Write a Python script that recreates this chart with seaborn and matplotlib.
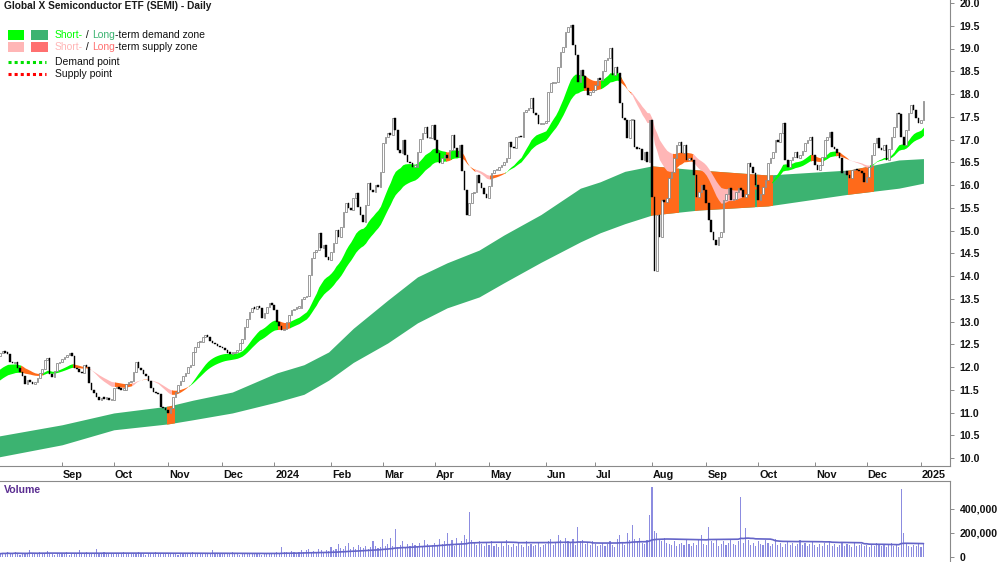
import numpy as np
import pandas as pd
import matplotlib
matplotlib.use("Agg")
import matplotlib.pyplot as plt
import seaborn as sns
from matplotlib.patches import Rectangle
from matplotlib.lines import Line2D

# ---------------- data ----------------
title = "Global X Semiconductor ETF (SEMI) - Daily"
first_day = "2023-07-27"

close_2023_07 = [12.25, 12.31, 12.35]
close_2023_08 = [12.30, 12.29, 12.10, 12.08, 12.12, 11.98, 11.90, 11.80, 11.62, 11.72, 11.68, 11.62,
                 11.66, 11.75, 11.87, 11.95, 12.15, 12.20, 11.85, 11.78, 11.92, 12.09, 12.12]
close_2023_09 = [12.18, 12.22, 12.26, 12.31, 12.25, 11.98, 11.95, 11.90, 11.87, 12.04, 12.00, 11.65,
                 11.50, 11.42, 11.34, 11.27, 11.32, 11.30, 11.32, 11.27, 11.28]
close_2023_10 = [11.54, 11.56, 11.52, 11.50, 11.50, 11.62, 11.67, 11.70, 11.89, 12.11, 11.98, 11.93,
                 11.85, 11.80, 11.70, 11.54, 11.45, 11.42, 11.40, 11.12, 11.10, 11.05]
close_2023_11 = [11.00, 11.10, 11.34, 11.45, 11.60, 11.70, 11.80, 11.87, 11.99, 12.05, 12.33, 12.45,
                 12.55, 12.56, 12.66, 12.70, 12.65, 12.58, 12.53, 12.50, 12.46, 12.44]
close_2023_12 = [12.42, 12.38, 12.31, 12.29, 12.31, 12.33, 12.38, 12.53, 12.62, 12.88, 13.05, 13.21,
                 13.30, 13.28, 13.34, 13.30, 13.08, 13.19, 13.32, 13.40, 13.36]
close_2024_01 = [13.25, 12.99, 12.90, 12.81, 12.84, 13.00, 13.14, 13.25, 13.28, 13.30, 13.30, 13.50,
                 13.54, 13.56, 14.02, 14.40, 14.53, 14.57, 14.95, 14.62, 14.68, 14.42, 14.35]
close_2024_02 = [14.53, 14.72, 15.01, 14.86, 15.08, 15.41, 15.60, 15.50, 15.45, 15.71, 15.82, 15.52,
                 15.35, 15.19, 15.56, 16.04, 15.90, 15.85, 16.00, 15.96, 16.29]
close_2024_03 = [16.92, 17.05, 17.14, 17.10, 17.47, 17.20, 16.77, 16.70, 16.99, 16.66, 16.51, 16.48,
                 16.40, 16.40, 16.73, 17.01, 17.14, 17.27, 17.03, 17.03, 17.32]
close_2024_04 = [16.99, 16.70, 16.48, 16.60, 16.66, 16.59, 16.77, 17.10, 16.81, 16.62, 16.88, 16.31,
                 15.89, 15.34, 15.60, 15.82, 15.85, 16.22, 16.05, 15.93, 15.80, 15.71]
close_2024_05 = [15.98, 16.26, 16.33, 16.33, 16.40, 16.44, 16.50, 16.59, 16.95, 16.84, 16.81, 17.05,
                 17.07, 17.05, 17.60, 17.65, 17.70, 17.91, 17.58, 17.54, 17.34, 17.34, 17.36]
close_2024_06 = [17.40, 18.04, 18.24, 18.24, 18.26, 18.60, 18.92, 19.03, 19.36, 19.47, 19.51, 19.07,
                 18.86, 18.26, 18.53, 18.40, 18.13, 17.98, 18.05, 18.09]
close_2024_07 = [18.20, 18.35, 18.31, 18.50, 18.75, 18.80, 19.01, 18.42, 18.60, 18.46, 17.80, 17.47,
                 17.43, 17.03, 17.43, 17.43, 16.84, 16.80, 16.79, 16.55, 16.73, 16.51, 17.43]
close_2024_08 = [15.74, 14.10, 15.35, 14.86, 15.67, 15.63, 15.71, 16.15, 16.29, 16.60, 16.88, 16.95,
                 16.70, 16.88, 16.55, 16.60, 16.55, 16.22, 15.74, 15.85, 16.00, 15.90]
close_2024_09 = [15.60, 15.23, 14.97, 14.80, 14.68, 14.86, 14.97, 15.67, 15.80, 15.93, 15.67, 15.70,
                 15.85, 15.93, 15.89, 15.74, 15.80, 16.48, 16.40, 16.26, 16.00]
close_2024_10 = [15.67, 15.80, 15.96, 16.11, 16.48, 16.60, 16.73, 16.99, 16.95, 17.15, 17.36, 16.55,
                 16.40, 16.55, 16.62, 16.73, 16.59, 16.65, 16.75, 16.92, 17.00, 17.05, 16.66]
close_2024_11 = [16.45, 16.33, 16.45, 16.62, 16.99, 17.05, 17.16, 16.84, 16.80, 16.70, 16.59, 16.26,
                 16.30, 16.22, 16.15, 16.33, 16.35, 16.33, 16.30, 16.26, 16.07]
close_2024_12 = [16.18, 16.40, 16.66, 16.92, 17.03, 16.81, 16.77, 16.88, 16.55, 16.80, 17.05, 17.27,
                 17.58, 17.55, 17.05, 16.88, 17.21, 17.58, 17.76, 17.65, 17.47, 17.36]
close_2025_01 = [17.43, 17.85]
open_first = 12.20

# volume, thousands of shares
vol_2023_07 = [30, 25, 35]
vol_2023_08 = [28, 40, 22, 30, 45, 25, 20, 35, 30, 28, 60, 25, 30, 22, 40, 35, 28, 50, 30, 25, 20, 32, 28]
vol_2023_09 = [30, 25, 45, 20, 35, 28, 30, 55, 25, 30, 40, 22, 28, 35, 70, 30, 25, 40, 28, 35, 30]
vol_2023_10 = [25, 30, 35, 28, 40, 22, 30, 25, 35, 28, 45, 30, 25, 20, 35, 30, 28, 40, 25, 30, 35, 28]
vol_2023_11 = [30, 25, 35, 28, 20, 30, 25, 35, 28, 30, 40, 22, 30, 25, 35, 28, 30, 25, 55, 30, 28, 35]
vol_2023_12 = [30, 25, 35, 28, 40, 30, 25, 20, 35, 30, 28, 25, 30, 35, 28, 25, 20, 30, 25, 28, 30]
vol_2024_01 = [35, 40, 30, 85, 45, 38, 30, 50, 40, 35, 45, 60, 40, 55, 70, 45, 50, 40, 65, 55, 45, 60, 50]
vol_2024_02 = [80, 60, 70, 110, 75, 65, 90, 120, 70, 80, 65, 100, 85, 75, 95, 70, 80, 130, 90, 75, 85]
vol_2024_03 = [150, 90, 110, 160, 95, 230, 80, 100, 130, 85, 110, 90, 120, 100, 85, 120, 95, 140, 110, 90, 100]
vol_2024_04 = [120, 95, 150, 110, 130, 200, 100, 140, 90, 160, 110, 130, 180, 150, 375, 140, 120, 100, 130,
               110, 90, 120]
vol_2024_05 = [100, 130, 90, 110, 85, 120, 95, 140, 100, 80, 110, 90, 120, 100, 85, 130, 95, 110, 90, 100,
               120, 85, 100]
vol_2024_06 = [110, 130, 150, 100, 120, 180, 140, 110, 160, 130, 120, 150, 100, 250, 130, 140, 110, 120, 100, 130]
vol_2024_07 = [110, 90, 100, 120, 95, 110, 130, 100, 85, 150, 180, 120, 100, 200, 140, 270, 150, 130, 160,
               120, 110, 140, 350]
vol_2024_08 = [580, 220, 200, 150, 130, 160, 120, 110, 100, 130, 90, 110, 120, 100, 150, 110, 90, 120, 100,
               140, 180, 110]
vol_2024_09 = [100, 250, 130, 120, 150, 90, 110, 130, 100, 120, 140, 110, 100, 130, 500, 120, 240, 140, 100,
               120, 90]
vol_2024_10 = [130, 110, 100, 140, 120, 90, 110, 150, 100, 120, 80, 110, 130, 100, 120, 90, 110, 140, 100,
               120, 90, 110, 130]
vol_2024_11 = [100, 80, 110, 90, 120, 100, 130, 90, 110, 80, 100, 120, 90, 110, 100, 80, 120, 90, 100, 110, 90]
vol_2024_12 = [100, 80, 110, 90, 120, 100, 90, 110, 80, 100, 120, 90, 100, 80, 570, 200, 110, 90, 80, 100,
               90, 110]
vol_2025_01 = [80, 120]

# long-term zone edges read at sample dates
long_dates = ["2023-07-27", "2023-09-01", "2023-10-02", "2023-11-01", "2023-11-15", "2023-12-07",
              "2024-01-02", "2024-01-17", "2024-01-31", "2024-02-14", "2024-03-05", "2024-03-21",
              "2024-04-08", "2024-04-25", "2024-05-09", "2024-05-30", "2024-06-21", "2024-07-03",
              "2024-07-17", "2024-08-01", "2024-08-28", "2024-10-07", "2024-11-21", "2024-12-19",
              "2025-01-02"]
long_upper = [10.48, 10.73, 10.99, 11.14, 11.27, 11.45, 11.87, 12.05, 12.33, 12.85, 13.47, 13.98,
              14.29, 14.57, 14.90, 15.35, 15.93, 16.07, 16.30, 16.42, 16.33, 16.22, 16.33, 16.55, 16.58]
long_lower = [10.02, 10.29, 10.62, 10.75, 10.84, 10.99, 11.23, 11.40, 11.71, 12.10, 12.53, 12.97,
              13.30, 13.54, 13.85, 14.30, 14.75, 14.95, 15.15, 15.34, 15.45, 15.54, 15.80, 15.93, 16.04]
long_orange_from = ["2023-11-01", "2024-08-01", "2024-08-27", "2024-10-01", "2024-11-21"]
long_orange_to = ["2023-11-03", "2024-08-15", "2024-09-27", "2024-10-08", "2024-12-04"]

# short-term zone: averages of the closes, started from the values read at the left edge
short_fast_span = 19
short_slow_span = 31
short_fast_start = 11.89
short_slow_start = 11.65
short_zone_from = ["2023-07-27", "2023-08-10", "2023-08-23", "2023-09-08", "2023-09-18", "2023-10-03",
                   "2023-10-12", "2023-10-18", "2023-10-20", "2023-11-03", "2023-11-14", "2024-01-03",
                   "2024-01-10", "2024-04-08", "2024-04-10", "2024-04-16", "2024-04-24", "2024-05-02",
                   "2024-05-10", "2024-06-25", "2024-07-04", "2024-07-16", "2024-07-22", "2024-08-14",
                   "2024-08-26", "2024-09-23", "2024-10-09", "2024-10-31", "2024-11-06", "2024-11-14",
                   "2024-11-21", "2024-12-04"]
short_zone_kind = ["g", "o", "g", "o", "p", "o", "p", "o", "p", "o", "g", "o", "g", "o", "g", "o", "p", "o",
                   "g", "o", "g", "o", "p", "o", "p", "o", "g", "o", "g", "o", "p", "g"]

price_ticks = [10.0, 10.5, 11.0, 11.5, 12.0, 12.5, 13.0, 13.5, 14.0, 14.5, 15.0, 15.5, 16.0, 16.5,
               17.0, 17.5, 18.0, 18.5, 19.0, 19.5, 20.0]
vol_ticks = [0, 200000, 400000]
vol_tick_labels = ["0", "200,000", "400,000"]
month_label_start = "2023-09-01"
month_label_end = "2025-01-01"

# ---------------- styling ----------------
C_LIME = "#00ff00"
C_DKGREEN = "#3cb371"
C_ORANGE = "#ff6a1a"
C_PINK = "#ffb6b6"
C_SALMON = "#ff7070"
C_VOL = "#8c8ce0"
C_VOLMA = "#6464c8"
zone_colors = {"g": C_LIME, "o": C_ORANGE, "p": C_PINK}

sns.set_theme(style="white")
plt.rcParams["font.family"] = ["Liberation Sans", "DejaVu Sans"]

W, H = 1000, 562
closes = np.array(sum([close_2023_07, close_2023_08, close_2023_09, close_2023_10, close_2023_11,
                       close_2023_12, close_2024_01, close_2024_02, close_2024_03, close_2024_04,
                       close_2024_05, close_2024_06, close_2024_07, close_2024_08, close_2024_09,
                       close_2024_10, close_2024_11, close_2024_12, close_2025_01], []), float)
volumes = np.array(sum([vol_2023_07, vol_2023_08, vol_2023_09, vol_2023_10, vol_2023_11, vol_2023_12,
                        vol_2024_01, vol_2024_02, vol_2024_03, vol_2024_04, vol_2024_05, vol_2024_06,
                        vol_2024_07, vol_2024_08, vol_2024_09, vol_2024_10, vol_2024_11, vol_2024_12,
                        vol_2025_01], []), float) * 1000.0
n = min(len(closes), len(volumes))
closes = closes[:n]
volumes = volumes[:n]
dates = pd.bdate_range(first_day, periods=n + 15)
x = np.arange(n)
opens = np.r_[open_first, closes[:-1]]


def di(d):
    return int(dates.searchsorted(pd.Timestamp(d)))


def ema(vals, span, seed):
    a = 2.0 / (span + 1.0)
    out = np.empty(len(vals))
    prev = seed
    for i, v in enumerate(vals):
        prev = prev + a * (v - prev)
        out[i] = prev
    return out


fast = ema(closes, short_fast_span, short_fast_start)
slow = ema(closes, short_slow_span, short_slow_start)
s_hi = np.maximum(fast, slow)
s_lo = np.minimum(fast, slow)

# pixel calibration of the date axis: Sep 1 2023 at x=62 px, Jan 1 2025 at x=921 px
i_a, i_b = di("2023-09-01"), di("2025-01-01")
ppd = (921 - 62) / (i_b - i_a)
AX_R = 950
xmin = i_a - 62 / ppd
xmax = i_a + (AX_R - 62) / ppd

# price: y(px) = 458 - (p-10)*45.5 ; axes from 0 to 466 px
ymax = 10 + 458 / 45.5
ymin = 10 - (466 - 458) / 45.5

fig = plt.figure(figsize=(10, 5.62), dpi=100)
ax = fig.add_axes([0, 1 - 466 / H, AX_R / W, 466 / H])
axv = fig.add_axes([0, 0, AX_R / W, 81 / H])
for a in (ax, axv):
    a.set_facecolor("white")
    a.grid(False)
    a.set_xlim(xmin, xmax)

# ---- long-term zone ----
lx = np.array([di(d) for d in long_dates], float)
ax.fill_between(lx, long_lower, long_upper, color=C_DKGREEN, lw=0, zorder=1)
for d0, d1 in zip(long_orange_from, long_orange_to):
    a0, a1 = di(d0) - 0.5, di(d1) + 0.5
    poly = ax.fill_between(lx, long_lower, long_upper, color=C_ORANGE, lw=0, zorder=2)
    rect = Rectangle((a0, 0), a1 - a0, 40, transform=ax.transData)
    poly.set_clip_path(rect)

# ---- short-term zone ----
starts = [di(d) for d in short_zone_from] + [n]
for k, kind in enumerate(short_zone_kind):
    a0, a1 = starts[k] - 0.5, starts[k + 1] - 0.5
    if k == len(short_zone_kind) - 1:
        a1 = n + 1
    poly = ax.fill_between(x, s_lo, s_hi, color=zone_colors[kind], lw=0, zorder=3)
    rect = Rectangle((a0, 0), a1 - a0, 40, transform=ax.transData)
    poly.set_clip_path(rect)

# ---- candles ----
up = closes >= opens
lo = np.minimum(opens, closes)
hgt = np.maximum(np.abs(closes - opens), 0.03)
ax.bar(x[up], hgt[up], bottom=lo[up], width=0.65, color="white", edgecolor="#808080", linewidth=0.55,
       zorder=5)
ax.bar(x[~up], hgt[~up], bottom=lo[~up], width=0.65, color="black", edgecolor="black", linewidth=0.3,
       zorder=5)

ax.set_ylim(ymin, ymax)
ax.yaxis.tick_right()
ax.set_yticks(price_ticks)
ax.set_yticklabels([f"{v:.1f}" for v in price_ticks])
ax.tick_params(axis="y", which="both", right=True, left=False, length=3, width=0.6, color="#777",
               labelsize=7.6, pad=4, labelcolor="#111")
for lbl in ax.get_yticklabels():
    lbl.set_fontweight("bold")
for s in ("left", "top"):
    ax.spines[s].set_visible(False)
for s in ("right", "bottom"):
    ax.spines[s].set_visible(True)
    ax.spines[s].set_color("#8a8a8a")
    ax.spines[s].set_linewidth(0.8)

# month ticks and labels
months = pd.date_range(month_label_start, month_label_end, freq="MS")
mt = [di(m) for m in months]
ax.set_xticks(mt)
ax.set_xticklabels([])
ax.tick_params(axis="x", which="both", bottom=True, direction="in", length=3, width=0.6, color="#777")
for m, t in zip(months, mt):
    lab = str(m.year) if m.month == 1 else m.strftime("%b")
    ax.text(t + 0.4, -4 / 466, lab, transform=ax.get_xaxis_transform(), ha="left", va="top",
            fontsize=7.8, fontweight="bold", color="#111")

# ---- volume ----
axv.bar(x, volumes, width=0.45, color=C_VOL, lw=0, zorder=2)
vol_ma = pd.Series(volumes).rolling(50, min_periods=1).mean().to_numpy()
sns.lineplot(x=x, y=vol_ma, ax=axv, color=C_VOLMA, linewidth=1.2, zorder=3, legend=False)
vb = -(562 - 557) / 24 * 200000
vt = (557 - 481) / 24 * 200000
axv.set_ylim(vb, vt)
axv.yaxis.tick_right()
axv.set_yticks(vol_ticks)
axv.set_yticklabels(vol_tick_labels)
axv.set_xticks([])
axv.set_ylabel("")
axv.tick_params(axis="y", right=True, left=False, length=3, width=0.6, color="#777", labelsize=7.6,
                pad=4, labelcolor="#111")
for lbl in axv.get_yticklabels():
    lbl.set_fontweight("bold")
for s in ("left", "bottom"):
    axv.spines[s].set_visible(False)
for s in ("right", "top"):
    axv.spines[s].set_visible(True)
    axv.spines[s].set_color("#8a8a8a")
    axv.spines[s].set_linewidth(0.8)
fig.text(4 / W, 1 - 490 / H, "Volume", color="#5a2d91", fontsize=7.6, fontweight="bold", ha="left",
         va="center")

# ---- title and legend ----
fig.text(4 / W, 1 - 6 / H, title, fontsize=7.3, fontweight="bold", color="#1a1a1a", ha="left", va="center")
renderer = fig.canvas.get_renderer()


def rich(x_px, y_px, pieces, size=7.5):
    xx = x_px
    for txt, col in pieces:
        t = fig.text(xx / W, 1 - y_px / H, txt, color=col, fontsize=size, ha="left", va="center")
        xx += t.get_window_extent(renderer=renderer).width


def box(x0, y0, w, h, col):
    fig.patches.append(Rectangle((x0 / W, 1 - (y0 + h) / H), w / W, h / H, transform=fig.transFigure,
                                 color=col, lw=0))


box(8, 30, 16, 10, C_LIME)
box(31, 30, 17, 10, C_DKGREEN)
box(8, 42, 16, 10, C_PINK)
box(31, 42, 17, 10, C_SALMON)
rich(55, 35, [("Short-", C_LIME), (" / ", "#111"), ("Long", C_DKGREEN), ("-term demand zone", "#111")])
rich(55, 47, [("Short-", C_PINK), (" / ", "#111"), ("Long", C_SALMON), ("-term supply zone", "#111")])
fig.lines.append(Line2D([8 / W, 46 / W], [1 - 62 / H, 1 - 62 / H], transform=fig.transFigure,
                        color="#00e000", lw=2.2, ls=(0, (1, 1))))
fig.lines.append(Line2D([8 / W, 46 / W], [1 - 74 / H, 1 - 74 / H], transform=fig.transFigure,
                        color="#ff0000", lw=2.2, ls=(0, (1, 1))))
rich(55, 62, [("Demand point", "#111")])
rich(55, 74, [("Supply point", "#111")])

fig.savefig("out.png", dpi=100)
